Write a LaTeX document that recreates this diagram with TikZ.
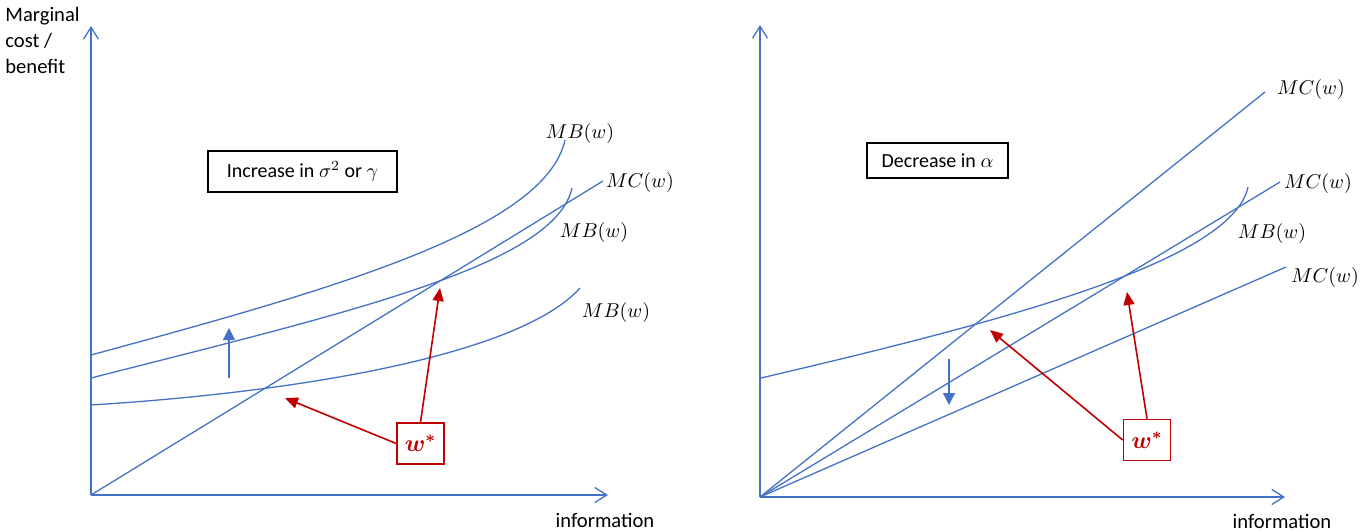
\documentclass[tikz,border=0pt]{standalone}
\usepackage{bm}
\usepackage{fontspec}
\setmainfont{Carlito}
\usetikzlibrary{arrows.meta}
\definecolor{axblue}{RGB}{68,114,196}
\definecolor{wred}{RGB}{192,0,0}
\tikzset{
  curve/.style={axblue, line width=0.65pt},
  axis/.style={axblue, line width=0.65pt, -{Straight Barb[length=6pt,width=7.5pt]}},
  shiftarrow/.style={axblue, line width=0.65pt, -{Triangle[length=6pt,width=6pt]}},
  redarrow/.style={wred, line width=0.8pt, -{Triangle[length=6.5pt,width=5.5pt]}},
  labelbox/.style={draw=black, line width=0.55pt, inner sep=0pt, font=\fontsize{10}{12}\selectfont},
  wbox/.style={draw=wred, line width=0.8pt, minimum width=23.5pt, minimum height=20.5pt, inner sep=0pt, text=wred, font=\fontsize{12}{14}\selectfont},
  lab/.style={inner sep=0pt, font=\fontsize{10}{12}\selectfont},
}
\begin{document}
\begin{tikzpicture}[x=0.5pt,y=-0.5pt]
\useasboundingbox (0,0) rectangle (1369,531);

% ---------- left panel ----------
\coordinate (O1) at (91,495);
\coordinate (Y1) at (91,26);
\coordinate (X1) at (608,495);
\draw[axis] (O1) -- (Y1);
\draw[axis] (O1) -- (X1);
\node[lab, anchor=north west, align=left, font=\fontsize{10.3}{13}\selectfont] (ylab) at (5,7) {Marginal\\cost /\\benefit};
\node[lab, font=\fontsize{10.3}{12}\selectfont] (xlab1) at (605,520) {information};

\coordinate (mc1end) at (603,181);
\draw[curve] (O1) -- (mc1end);
\node[lab] (mc1lab) at (640,182) {$MC(w)$};

\coordinate (mbA0) at (91,355);
\coordinate (mbA1) at (565,140);
\draw[curve] (mbA0) .. controls (330,290) and (545,230) .. (mbA1);
\node[lab] (mbAlab) at (580,133) {$MB(w)$};

\coordinate (mbB0) at (91,378);
\coordinate (mbB1) at (572,188);
\draw[curve] (mbB0) .. controls (350,312) and (555,265) .. (mbB1);
\node[lab] (mbBlab) at (594,232) {$MB(w)$};

\coordinate (mbC0) at (91,405);
\coordinate (mbC1) at (580,288);
\draw[curve] (mbC0) .. controls (300,392) and (520,355) .. (mbC1);
\node[lab] (mbClab) at (616,312) {$MB(w)$};

\node[labelbox, minimum width=94.5pt, minimum height=20.5pt] (box1) at (302.5,171.5) {Increase in $\sigma^2$ or $\gamma$};

\coordinate (up0) at (229,378);
\coordinate (up1) at (229,328);
\draw[shiftarrow] (up0) -- (up1);

\node[wbox] (w1) at (420.5,443.5) {$\bm{w^{*}}$};
\coordinate (t1a) at (285,398);
\coordinate (t1b) at (440,288);
\draw[redarrow] (w1.west) -- (t1a);
\draw[redarrow] (w1.north) -- (t1b);

% ---------- right panel ----------
\coordinate (O2) at (760,497);
\coordinate (Y2) at (760,25);
\coordinate (X2) at (1285,497);
\draw[axis] (O2) -- (Y2);
\draw[axis] (O2) -- (X2);
\node[lab, font=\fontsize{10.3}{12}\selectfont] (xlab2) at (1282,521) {information};

\coordinate (mcH) at (1265,92);
\coordinate (mcM) at (1280,182);
\coordinate (mcL) at (1286,267);
\draw[curve] (O2) -- (mcH);
\draw[curve] (O2) -- (mcM);
\draw[curve] (O2) -- (mcL);
\node[lab] (mcHlab) at (1311,89) {$MC(w)$};
\node[lab] (mcMlab) at (1318,183) {$MC(w)$};
\node[lab] (mcLlab) at (1325,277) {$MC(w)$};

\coordinate (mbR0) at (761,378);
\coordinate (mbR1) at (1248,187);
\draw[curve] (mbR0) .. controls (1000,322) and (1232,262) .. (mbR1);
\node[lab] (mbRlab) at (1272,233) {$MB(w)$};

\node[labelbox, minimum width=70.5pt, minimum height=17.5pt] (box2) at (937.5,160.5) {Decrease in $\alpha$};

\coordinate (dn0) at (949,359);
\coordinate (dn1) at (949,405);
\draw[shiftarrow] (dn0) -- (dn1);

\node[wbox] (w2) at (1147,440) {$\bm{w^{*}}$};
\coordinate (t2a) at (990,330);
\coordinate (t2b) at (1127,292);
\draw[redarrow] (w2.west) -- (t2a);
\draw[redarrow] (w2.north) -- (t2b);
\end{tikzpicture}
\end{document}
